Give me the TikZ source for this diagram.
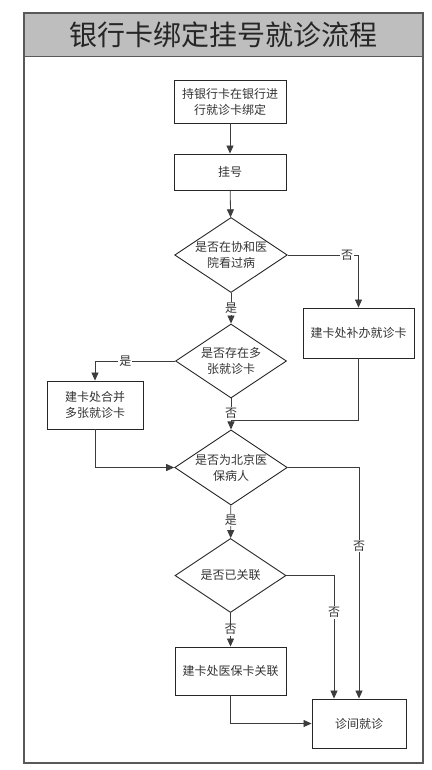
\documentclass[tikz,border=0pt]{standalone}
\usepackage{fontspec}
\setmainfont{Noto Sans CJK SC}
\usetikzlibrary{shapes.geometric, arrows.meta}
\definecolor{lineg}{HTML}{3C3C3C}
\definecolor{titleg}{HTML}{BEBEBE}
\tikzset{
  procbox/.style={draw=black!85, line width=0.9pt, minimum width=#1, align=center, font=\fontsize{12}{16}\selectfont, text=black!80},
  decision/.style={diamond, draw=black!85, line width=0.9pt, aspect=1.5, inner sep=0pt, minimum width=111pt, minimum height=74pt, align=center, font=\fontsize{12}{16}\selectfont, text=black!80},
  flow/.style={draw=lineg, line width=0.8pt, -{Triangle[length=8pt, width=7pt]}},
  joinline/.style={draw=lineg, line width=0.8pt},
  lbl/.style={fill=white, inner sep=1pt, font=\fontsize{12}{14}\selectfont, text=black!80}
}

\begin{document}
\begin{tikzpicture}[x=1pt, y=-1pt]
\useasboundingbox (0,0) rectangle (431,770);

% frame and title band
\fill[titleg] (24,13) rectangle (423,57);
\draw[black!65, line width=1.2pt] (24,13) rectangle (423,763);
\draw[black!65, line width=1pt] (24,57) -- (423,57);
\node[text=black!85] (title) at (223.5,35) {\fontsize{28}{32}\selectfont 银行卡绑定挂号就诊流程};

% steps
\node[procbox=112pt, minimum height=43pt] (bind) at (230,101.5) {持银行卡在银行进\\行就诊卡绑定};
\node[procbox=112pt, minimum height=36pt] (reg) at (230,172) {挂号};
\node[decision] (askpumch) at (231,255) {是否在协和医\\院看过病};
\node[procbox=111pt, minimum height=50pt] (bfix) at (358.5,333) {建卡处补办就诊卡};
\node[decision] (askmulti) at (231,361) {是否存在多\\张就诊卡};
\node[procbox=96pt, minimum height=48pt] (bmerge) at (95,405) {建卡处合并\\多张就诊卡};
\node[decision] (askbj) at (231,467.5) {是否为北京医\\保病人};
\node[decision] (asklink) at (230.5,575.5) {是否已关联};
\node[procbox=111pt, minimum height=48pt] (blink) at (230.5,671) {建卡处医保卡关联};
\node[procbox=94pt, minimum height=49pt] (visit) at (359,723.5) {诊间就诊};
\coordinate (j1) at (231,420);

% connectors
\draw[flow] (bind) -- (reg);
\draw[flow] (reg) -- (askpumch);
\draw[flow] (askpumch.east) -| node[lbl, pos=0.42] {否} (bfix.north);
\draw[flow] (askpumch) -- node[lbl] {是} (askmulti);
\draw[flow] (askmulti.west) -| node[lbl, pos=0.31] {是} (bmerge.north);
\draw[flow] (askmulti) -- node[lbl, pos=0.48] {否} (askbj);
\draw[joinline] (bfix.south) |- (j1);
\draw[flow] (bmerge.south) |- (askbj.west);
\draw[flow] (askbj.east) -| node[lbl, pos=0.67] {否} (visit.north);
\draw[flow] (askbj) -- node[lbl, pos=0.45] {是} (asklink);
\draw[flow] (asklink.east) -| node[lbl, pos=0.65] {否} ([xshift=-25pt]visit.north);
\draw[flow] (asklink) -- node[lbl] {否} (blink);
\draw[flow] (blink.south) |- (visit.west);
\end{tikzpicture}
\end{document}
